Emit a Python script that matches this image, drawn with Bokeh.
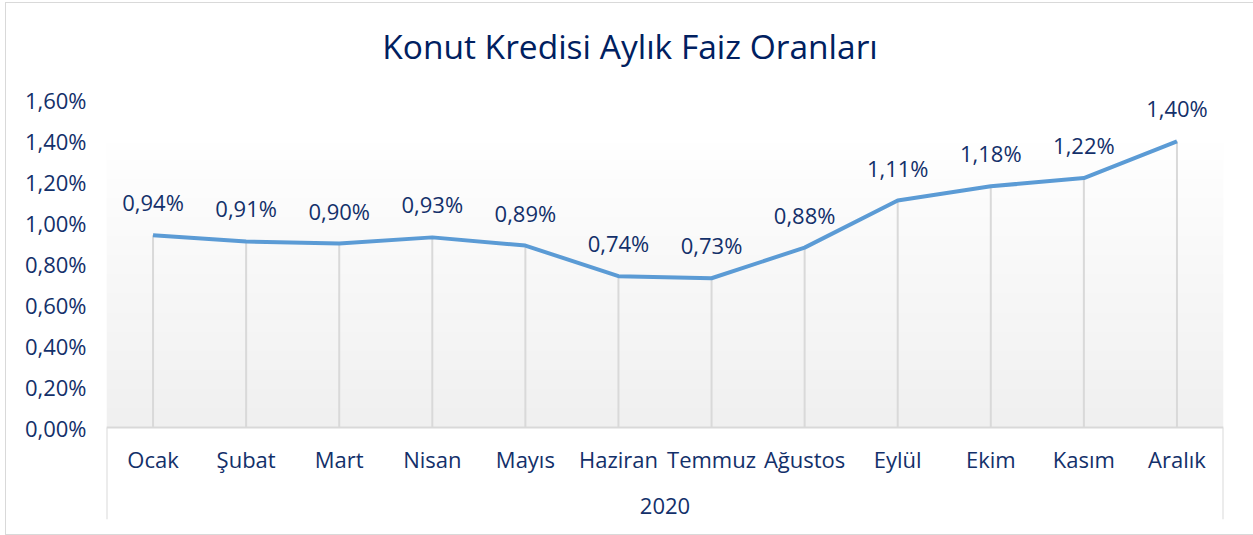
import numpy as np
from bokeh.plotting import figure
from bokeh.models import Range1d, FixedTicker, CustomJSTickFormatter
from bokeh.core.properties import value
from bokeh.embed import file_html
from bokeh.resources import INLINE

# ---- data ----
months = ["Ocak", "Şubat", "Mart", "Nisan", "Mayıs", "Haziran", "Temmuz",
          "Ağustos", "Eylül", "Ekim", "Kasım", "Aralık"]
rates = [0.94, 0.91, 0.90, 0.93, 0.89, 0.74, 0.73, 0.88, 1.11, 1.18, 1.22, 1.40]
year = "2020"
y_ticks = [0.0, 0.2, 0.4, 0.6, 0.8, 1.0, 1.2, 1.4, 1.6]
title = "Konut Kredisi Aylık Faiz Oranları"

# ---- styling ----
FONT = "Open Sans"
NAVY = "#13306a"
TITLE_C = "#002060"
LINE = "#5b9bd5"
GRID = "#d9d9d9"
FS = "22px"

idx = list(range(len(months)))
labels = [f"{v:.2f}".replace(".", ",") + "%" for v in rates]
x_mid = (len(months) - 1) / 2

# frame spans the whole height of the chart (title area included)
p = figure(width=1249, height=533, output_backend="svg", toolbar_location=None,
           x_range=Range1d(-0.5, len(months) - 0.5),
           y_range=Range1d(-0.45, 2.074),
           min_border_left=100, min_border_right=32,
           min_border_top=0, min_border_bottom=17)

p.outline_line_color = None
p.xgrid.visible = False
p.ygrid.visible = False
p.xaxis.visible = False
p.background_fill_color = "white"
p.border_fill_color = "white"

ya = p.yaxis[0]
ya.ticker = FixedTicker(ticks=y_ticks)
ya.formatter = CustomJSTickFormatter(code="return tick.toFixed(2).replace('.', ',') + '%';")
ya.axis_line_color = None
ya.major_tick_line_color = None
ya.minor_tick_line_color = None
ya.major_label_standoff = 14
ya.major_label_text_font = FONT
ya.major_label_text_font_size = FS
ya.major_label_text_color = NAVY

# gradient background of the plot area
n = 120
g = np.linspace(240, 255, n).astype(np.uint8)
img = np.zeros((n, 1, 4), dtype=np.uint8)
img[:, 0, 0] = g
img[:, 0, 1] = g
img[:, 0, 2] = g
img[:, 0, 3] = 255
img32 = img.view(dtype=np.uint32).reshape((n, 1))
p.image_rgba(image=[img32], x=-0.5, y=0, dw=len(months), dh=1.4)

# drop lines
p.segment(x0=idx, y0=[0] * len(idx), x1=idx, y1=rates, line_color=GRID, line_width=2)
# category axis line & outer group lines
p.segment(x0=[-0.5], y0=[0], x1=[len(months) - 0.5], y1=[0], line_color=GRID, line_width=2)
p.segment(x0=[-0.5, len(months) - 0.5], y0=[0, 0], x1=[-0.5, len(months) - 0.5],
          y1=[-0.45, -0.45], line_color=GRID, line_width=2)

# series line
p.line(idx, rates, line_color=LINE, line_width=4, line_join="round")

# data labels
p.text(x=idx, y=rates, text=labels, text_align="center", text_baseline="middle",
       y_offset=-33, text_font=value(FONT), text_font_size=FS, text_color=NAVY)

# category labels
p.text(x=idx, y=[0] * len(idx), text=months, text_align="center", text_baseline="middle",
       y_offset=31, text_font=value(FONT), text_font_size=FS, text_color=NAVY)
# group label
p.text(x=[x_mid], y=[0], text=[year], text_align="center",
       text_baseline="middle", y_offset=78, text_font=value(FONT),
       text_font_size=FS, text_color=NAVY)

# chart title
p.text(x=[x_mid], y=[y_ticks[-1]], text=[title], x_offset=-35, y_offset=-54,
       text_align="center", text_baseline="middle", text_font=value(FONT),
       text_font_size="33.5px", text_color=TITLE_C)

p.styles = {"border": "1px solid #d9d9d9", "margin-left": "5px", "margin-top": "2px"}

open("out.html", "w").write(file_html(p, INLINE))
